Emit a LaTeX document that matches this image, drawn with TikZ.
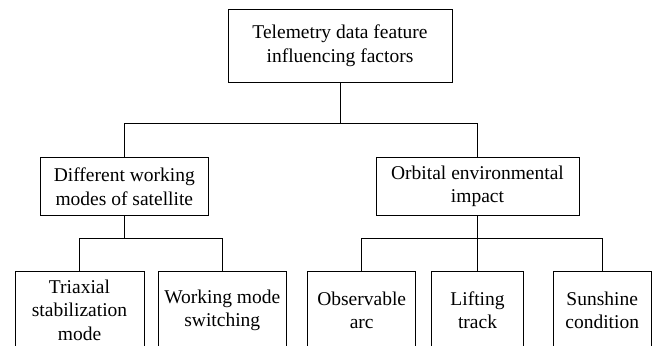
\documentclass[tikz,border=0pt]{standalone}
\usepackage{fontspec}
\setmainfont{Liberation Serif}
\begin{document}
\begin{tikzpicture}[x=1pt,y=-1pt,
  box/.style={draw, line width=0.9pt, inner sep=0pt, align=center,
    font=\fontsize{19.5}{23.5}\selectfont},
  link/.style={line width=0.9pt}]
\useasboundingbox (0,0) rectangle (655,345);
\clip (0,0) rectangle (655,345);
\node[box, minimum width=224, minimum height=73] (top) at (340,45.5) {Telemetry data feature\\influencing factors};
\node[box, minimum width=168.7, minimum height=57.6] (modes) at (124.3,186.5) {Different working\\modes of satellite};
\node[box, minimum width=203, minimum height=57.6] (orbit) at (477.5,186.5) {Orbital environmental\\impact};
\node[box, minimum width=129, minimum height=77] (tri) at (79.5,310.2) {Triaxial\\stabilization\\mode};
\node[box, minimum width=128.7, minimum height=77] (switch) at (222.3,310.2) {Working mode\\switching};
\node[box, minimum width=108, minimum height=77] (obs) at (361.7,310.2) {Observable\\arc};
\node[box, minimum width=92, minimum height=77] (lift) at (477.5,310.2) {Lifting\\track};
\node[box, minimum width=97.7, minimum height=77] (sun) at (602.2,310.2) {Sunshine\\condition};
\coordinate (j1) at (340,123.5);
\coordinate (j2) at (124.3,238.5);
\coordinate (j3) at (477.5,238.5);
\draw[link] (top.south) -- (j1);
\draw[link] (modes.north) |- (j1) -| (orbit.north);
\draw[link] (modes.south) -- (j2);
\draw[link] (tri.north) |- (j2) -| (switch.north);
\draw[link] (orbit.south) -- (j3);
\draw[link] (obs.north) |- (j3) -| (sun.north);
\draw[link] (j3) -- (lift.north);
\end{tikzpicture}
\end{document}
